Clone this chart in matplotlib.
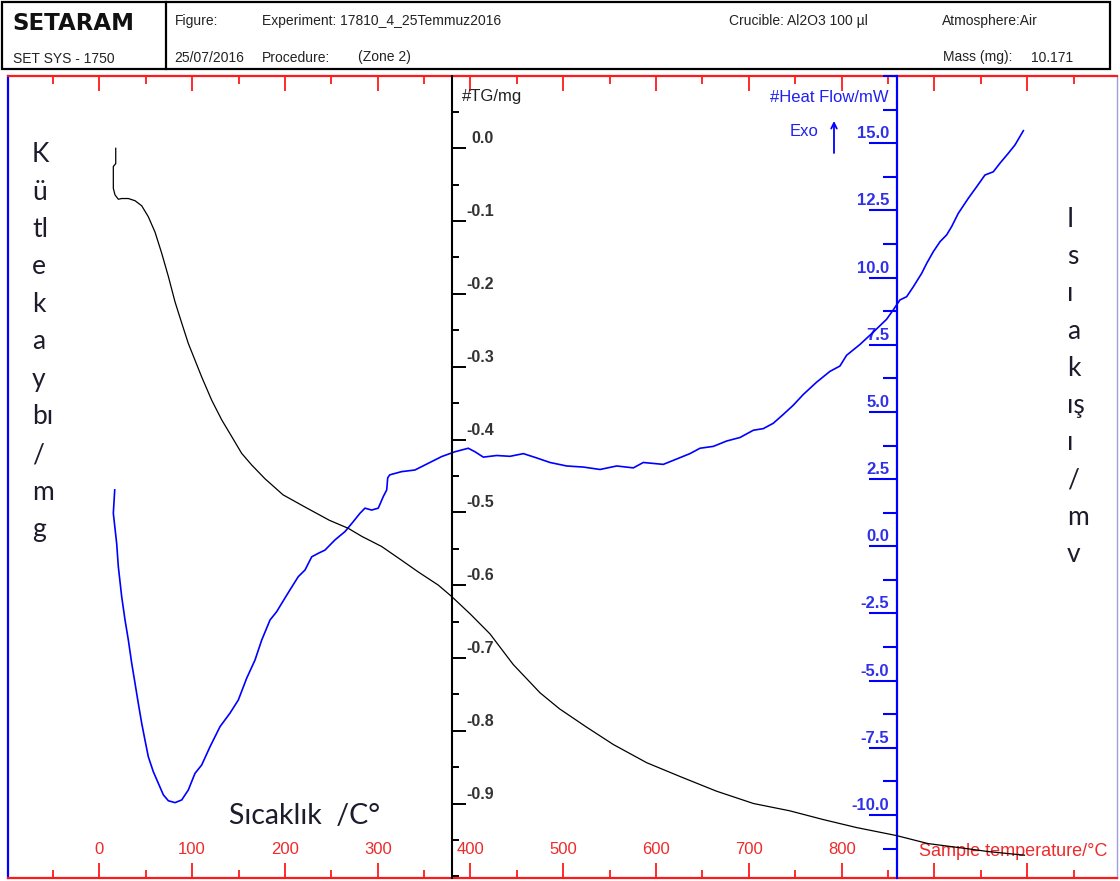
import matplotlib
matplotlib.use("Agg")
import matplotlib.pyplot as plt
from matplotlib.ticker import FixedLocator, MultipleLocator, FuncFormatter
from matplotlib.transforms import ScaledTranslation
from matplotlib.patches import Rectangle
from matplotlib.lines import Line2D

plt.rcParams['font.family'] = ['Liberation Sans', 'DejaVu Sans']

# ---------------- data ----------------
tg_temp = [17.7, 17.7, 15.1, 15.1, 16.9, 20.5, 24.1, 31.3, 38.5, 45.7, 52.8, 60.0, 67.2,
           74.4, 81.6, 88.8, 95.9, 103.1, 110.3, 121.1, 131.9, 142.7, 153.4, 164.2, 178.6,
           198.0, 222.0, 248.0, 268.3, 282.8, 304.3, 325.9, 343.8, 365.3, 380.0, 400.0,
           421.0, 446.0, 475.0, 496.0, 525.0, 554.0, 590.0, 626.0, 665.0, 705.0, 744.0,
           780.0, 816.0, 859.0, 893.0, 935.0, 958.0, 997.0]
tg_mass = [0.0, -0.021, -0.025, -0.055, -0.064, -0.070, -0.069, -0.069, -0.072, -0.079,
           -0.094, -0.115, -0.144, -0.176, -0.211, -0.240, -0.268, -0.291, -0.314, -0.346,
           -0.373, -0.396, -0.419, -0.435, -0.454, -0.476, -0.493, -0.511, -0.522, -0.533,
           -0.547, -0.566, -0.582, -0.600, -0.616, -0.640, -0.667, -0.709, -0.748, -0.770,
           -0.795, -0.819, -0.844, -0.863, -0.883, -0.900, -0.910, -0.922, -0.933, -0.944,
           -0.955, -0.962, -0.966, -0.971]

hf_temp = [16.6, 15.1, 18.7, 20.5, 24.1, 27.7, 31.3, 34.9, 38.5, 42.0, 45.7, 49.2, 52.8,
           58.2, 63.6, 69.0, 74.4, 81.6, 88.8, 95.9, 103.1, 110.3, 119.3, 130.1, 140.8,
           149.8, 158.8, 167.8, 175.0, 184.0, 191.2, 196.6, 205.5, 214.4, 221.7, 228.9,
           236.0, 243.2, 254.0, 264.8, 273.7, 280.9, 286.3, 293.5, 300.6, 306.0, 309.7,
           310.8, 313.0, 325.8, 340.1, 354.5, 368.9, 383.3, 397.6, 404.8, 413.8, 428.2,
           442.6, 457.0, 471.3, 485.7, 503.7, 521.6, 539.6, 557.5, 575.5, 586.2, 607.8,
           622.2, 636.5, 647.3, 661.7, 676.1, 690.4, 704.8, 715.5, 726.3, 737.1, 747.8,
           758.6, 773.0, 787.3, 798.1, 805.3, 819.6, 834.0, 848.4, 855.6, 862.8, 870.0,
           877.2, 886.2, 891.6, 898.8, 906.0, 913.1, 918.5, 925.6, 936.4, 945.4, 954.4,
           963.4, 970.6, 979.6, 986.8, 995.8]
hf_flow = [2.10, 1.23, 0.11, -0.76, -1.87, -2.74, -3.49, -4.35, -5.10, -5.84, -6.59, -7.21,
           -7.83, -8.39, -8.82, -9.25, -9.47, -9.54, -9.44, -9.07, -8.45, -8.14, -7.46,
           -6.71, -6.21, -5.72, -4.91, -4.23, -3.49, -2.74, -2.43, -2.12, -1.62, -1.13,
           -0.88, -0.39, -0.26, -0.14, 0.24, 0.55, 0.92, 1.23, 1.42, 1.35, 1.42, 1.85, 2.10,
           2.55, 2.66, 2.78, 2.84, 3.09, 3.34, 3.52, 3.65, 3.52, 3.32, 3.38, 3.35, 3.45,
           3.29, 3.12, 2.99, 2.95, 2.86, 2.99, 2.92, 3.12, 3.05, 3.25, 3.45, 3.65, 3.72,
           3.92, 4.05, 4.32, 4.38, 4.58, 4.91, 5.25, 5.65, 6.11, 6.51, 6.71, 7.11, 7.51,
           7.97, 8.45, 8.80, 9.17, 9.29, 9.66, 10.16, 10.53, 10.97, 11.34, 11.59, 11.90,
           12.39, 12.95, 13.38, 13.82, 13.94, 14.26, 14.63, 14.94, 15.47]

temp_major_ticks = [-100, 0, 100, 200, 300, 400, 500, 600, 700, 800, 900, 1000, 1100]
temp_tick_values = [0, 100, 200, 300, 400, 500, 600, 700, 800]
temp_tick_labels = ["0", "100", "200", "300", "400", "500", "600", "700", "800"]

tg_tick_values = [0.0, -0.1, -0.2, -0.3, -0.4, -0.5, -0.6, -0.7, -0.8, -0.9]
tg_tick_labels = ["0.0", "-0.1", "-0.2", "-0.3", "-0.4", "-0.5", "-0.6", "-0.7", "-0.8", "-0.9"]

hf_tick_values = [-10.0, -7.5, -5.0, -2.5, 0.0, 2.5, 5.0, 7.5, 10.0, 12.5, 15.0]
hf_tick_labels = ["-10.0", "-7.5", "-5.0", "-2.5", "0.0", "2.5", "5.0", "7.5", "10.0", "12.5", "15.0"]

left_letters = ["K", "ü", "tl", "e", "k", "a", "y", "bı", "/", "m", "g"]
right_letters = ["I", "s", "ı", "a", "k", "ış", "ı", "/", "m", "v"]

# ---------------- figure ----------------
W, H = 1120, 881
fig = plt.figure(figsize=(W / 100, H / 100), dpi=100)
fig.patch.set_facecolor('white')


def fx(x):
    return x / W


def fy(y):
    return 1 - y / H


L, R, T, B = 8, 1117, 76, 878
rect = [L / W, 1 - B / H, (R - L) / W, (B - T) / H]
XLIM = (-98.4, 1096.7)
RED = '#ff1a1a'
LRED = '#ee2a2a'
BLUE = '#0000ff'

# main frame axis (temperature)
ax = fig.add_axes(rect)
ax.set_xlim(*XLIM)
ax.set_ylim(0, 1)
ax.set_yticks([])
for s in ('top', 'bottom'):
    ax.spines[s].set_color(RED)
    ax.spines[s].set_linewidth(1.6)
ax.spines['left'].set_color(BLUE)
ax.spines['left'].set_linewidth(1.6)
ax.spines['right'].set_color('#a0a0e0')
ax.spines['right'].set_linewidth(1.0)
lab_map = dict(zip(temp_tick_values, temp_tick_labels))
ax.xaxis.set_major_locator(FixedLocator(temp_major_ticks))
ax.xaxis.set_minor_locator(MultipleLocator(50))
ax.xaxis.set_major_formatter(FuncFormatter(lambda v, p: lab_map.get(int(round(v)), '')))
ax.tick_params(axis='x', which='both', direction='in', top=True, bottom=True,
               colors=RED, labelcolor=LRED)
ax.tick_params(axis='x', which='major', length=11, width=1.3, labelsize=12, pad=-26)
ax.tick_params(axis='x', which='minor', length=6, width=1.3)
ax.set_xlabel('Sample temperature/°C', color=LRED, fontsize=13, ha='left', va='center')
ax.xaxis.set_label_coords((919 - L) / (R - L), (B - 852) / (B - T))

# heat flow axis
ax_hf = fig.add_axes(rect, sharex=ax, facecolor='none')
ax_hf.set_ylim(-12.345, 17.505)
for s in ('right', 'top', 'bottom'):
    ax_hf.spines[s].set_visible(False)
ax_hf.spines['left'].set_position(('data', 859.5))
ax_hf.spines['left'].set_color(BLUE)
ax_hf.spines['left'].set_linewidth(1.6)
ax_hf.tick_params(axis='x', which='both', bottom=False, top=False,
                  labelbottom=False, labeltop=False)
hf_map = dict(zip(hf_tick_values, hf_tick_labels))
ax_hf.yaxis.set_major_locator(FixedLocator(hf_tick_values))
ax_hf.yaxis.set_minor_locator(MultipleLocator(1.25))
ax_hf.yaxis.set_major_formatter(FuncFormatter(lambda v, p: hf_map.get(round(v, 1), '')))
ax_hf.tick_params(axis='y', which='both', direction='out', colors=BLUE, labelcolor='#3030e8')
ax_hf.tick_params(axis='y', which='major', length=20, width=1.5, labelsize=12, pad=0)
ax_hf.tick_params(axis='y', which='minor', length=10, width=1.5)
off_hf = ScaledTranslation(20 / 100, 11 / 100, fig.dpi_scale_trans)
for lab in ax_hf.get_yticklabels():
    lab.set_fontweight('bold')
    lab.set_transform(lab.get_transform() + off_hf)
ax_hf.plot(hf_temp, hf_flow, color=BLUE, lw=1.2)

# TG axis
ax_tg = fig.add_axes(rect, sharex=ax, facecolor='none')
ax_tg.set_ylim(-1.0023, 0.0993)
for s in ('left', 'top', 'bottom'):
    ax_tg.spines[s].set_visible(False)
ax_tg.spines['right'].set_position(('data', 380))
ax_tg.spines['right'].set_color('black')
ax_tg.spines['right'].set_linewidth(1.5)
ax_tg.yaxis.tick_right()
ax_tg.tick_params(axis='x', which='both', bottom=False, top=False,
                  labelbottom=False, labeltop=False)
tg_map = dict(zip(tg_tick_values, tg_tick_labels))
ax_tg.yaxis.set_major_locator(FixedLocator(tg_tick_values))
ax_tg.yaxis.set_minor_locator(MultipleLocator(0.05))
ax_tg.yaxis.set_major_formatter(FuncFormatter(lambda v, p: tg_map.get(round(v, 1) + 0.0, '')))
ax_tg.tick_params(axis='y', which='both', direction='out', colors='black', labelcolor='#333333')
ax_tg.tick_params(axis='y', which='major', length=10, width=1.4, labelsize=11.5, pad=0)
ax_tg.tick_params(axis='y', which='minor', length=5, width=1.4)
off_tg = ScaledTranslation(28 / 100, 11 / 100, fig.dpi_scale_trans)
for lab in ax_tg.get_yticklabels():
    lab.set_fontweight('bold')
    lab.set_horizontalalignment('right')
    lab.set_transform(lab.get_transform() + off_tg)
ax_tg.plot(tg_temp, tg_mass, color='black', lw=0.9)

# axis titles
fig.text(fx(462), fy(97), '#TG/mg', fontsize=12, color='#222222', va='center', ha='left')
fig.text(fx(889), fy(97), '#Heat Flow/mW', fontsize=12, color='#2020f0', va='center', ha='right')
fig.text(fx(790), fy(132), 'Exo', fontsize=12, color='#2020f0', va='center', ha='left')
ax.annotate('', xy=(834, H - 121), xytext=(834, H - 153), xycoords='figure pixels',
            textcoords='figure pixels',
            arrowprops=dict(arrowstyle='->', color=BLUE, lw=1.3, shrinkA=0, shrinkB=0))

# ---------------- header ----------------
fig.add_artist(Rectangle((fx(2), fy(69)), (1110 - 2) / W, (69 - 2) / H,
                         transform=fig.transFigure, fill=False, ec='black', lw=1.6))
fig.add_artist(Line2D([fx(166), fx(166)], [fy(2), fy(69)], transform=fig.transFigure,
                      color='black', lw=1.6))
fig.text(fx(12), fy(23), 'SETARAM', fontsize=16.5, fontweight='bold', family='DejaVu Sans',
         va='center', ha='left', color='#111111')
fig.text(fx(13), fy(59), 'SET SYS - 1750', fontsize=10, va='center', ha='left', color='#222222')
hdr = [(175, 21.5, 'Figure:'), (262, 21.5, 'Experiment: 17810_4_25Temmuz2016'),
       (174, 57.5, '25/07/2016'), (262, 57.5, 'Procedure:'), (358, 57.5, '(Zone 2)'),
       (729, 21.5, 'Crucible: Al2O3 100 µl'), (942, 21.5, 'Atmosphere:Air'),
       (943, 57.5, 'Mass (mg):'), (1031, 57.5, '10.171')]
for x, y, s in hdr:
    fig.text(fx(x), fy(y), s, fontsize=10, va='center', ha='left', color='#222222')

# ---------------- annotations (Turkish labels) ----------------
TXT = '#1c1c2c'
for i, s in enumerate(left_letters):
    fig.text(fx(32), fy(162 + 37.5 * i), s, fontsize=19, family=['Lato', 'DejaVu Sans'],
             color=TXT, va='baseline', ha='left')
for i, s in enumerate(right_letters):
    fig.text(fx(1067), fy(227 + 37.2 * i), s, fontsize=19, family=['Lato', 'DejaVu Sans'],
             color=TXT, va='baseline', ha='left')
fig.text(fx(229), fy(824), 'Sıcaklık  /C°', fontsize=20.5, family=['Lato', 'DejaVu Sans'],
         color=TXT, va='baseline', ha='left')

fig.savefig('out.png', dpi=100, facecolor='white')
